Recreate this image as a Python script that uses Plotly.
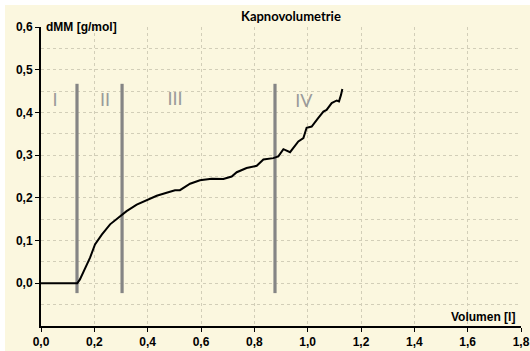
import plotly.graph_objects as go

# Curve data (Volumen [l], dMM [g/mol])
vol = [0.0, 0.136, 0.146, 0.165, 0.184, 0.2025, 0.228, 0.259, 0.303, 0.321, 0.359, 0.396,
       0.434, 0.471, 0.5025, 0.521, 0.559, 0.596, 0.64, 0.684, 0.715, 0.734, 0.771, 0.809,
       0.834, 0.871, 0.8775, 0.89, 0.909, 0.934, 0.965, 0.984, 0.996, 1.015, 1.04, 1.059,
       1.071, 1.09, 1.109, 1.1175, 1.125, 1.13]
dmm = [0.0, 0.0, 0.009, 0.033, 0.06, 0.091, 0.114, 0.138, 0.161, 0.169, 0.184, 0.194,
       0.205, 0.212, 0.218, 0.218, 0.233, 0.241, 0.245, 0.244, 0.25, 0.26, 0.27, 0.275,
       0.29, 0.293, 0.294, 0.297, 0.314, 0.307, 0.332, 0.34, 0.364, 0.367, 0.387, 0.402,
       0.406, 0.422, 0.428, 0.426, 0.441, 0.455]

# Phase boundaries and labels
phase_x = [0.135, 0.304, 0.8775]
phase_top = 0.467
phase_bottom = -0.023
phase_labels = ["I", "II", "III", "IV"]
phase_label_x = [0.0525, 0.24, 0.5025, 0.986]
phase_label_y = [0.425, 0.425, 0.427, 0.423]

y_ticks = [0.0, 0.1, 0.2, 0.3, 0.4, 0.5, 0.6]
y_ticktext = ["0,0", "0,1", "0,2", "0,3", "0,4", "0,5", "0,6"]
x_ticks = [0.0, 0.2, 0.4, 0.6, 0.8, 1.0, 1.2, 1.4, 1.6, 1.8]
x_ticktext = ["0,0", "0,2", "0,4", "0,6", "0,8", "1,0", "1,2", "1,4", "1,6", "1,8"]

cream = "#FBF7DF"
grid = "#D2CEB8"

fig = go.Figure()

for px in phase_x:
    fig.add_trace(go.Scatter(x=[px, px], y=[phase_bottom, phase_top], mode="lines",
                             line=dict(color="#858585", width=3.2), hoverinfo="skip",
                             showlegend=False))

fig.add_trace(go.Scatter(x=vol, y=dmm, mode="lines",
                         line=dict(color="black", width=2), showlegend=False))

fig.add_trace(go.Scatter(x=phase_label_x, y=phase_label_y, mode="text", text=phase_labels,
                         textfont=dict(family="Lato, Open Sans, sans-serif", size=18,
                                       color="#9A9A9A"),
                         showlegend=False, hoverinfo="skip"))

# cream background (leaves a thin white strip at left and top)
fig.add_shape(type="rect", xref="paper", yref="paper", x0=-36/480, x1=1.1, y0=-0.1,
              y1=1 + 22/299, fillcolor=cream, line=dict(width=0), layer="below")

fig.add_annotation(text="<b>Kapnovolumetrie</b>", xref="paper", yref="paper",
                   x=(291-41)/480, y=1 + (27-16)/299, xanchor="center", yanchor="middle",
                   showarrow=False, font=dict(family="Lato, Open Sans, sans-serif", size=13,
                                              color="black"))
fig.add_annotation(text="<b>dMM [g/mol]</b>", xref="paper", yref="paper",
                   x=3/480, y=1.0, xanchor="left", yanchor="middle", showarrow=False,
                   font=dict(family="Liberation Sans, Arial, sans-serif", size=12, color="black"))
fig.add_annotation(text="<b>Volumen [l]</b>", xref="paper", yref="paper",
                   x=(517-41)/480, y=(326-317)/299, xanchor="right", yanchor="middle",
                   showarrow=False,
                   font=dict(family="Liberation Sans, Arial, sans-serif", size=12, color="black"))

tickfont = dict(family="Liberation Sans, Arial, sans-serif", size=12, color="black",
                weight="bold")

fig.update_xaxes(range=[0, 1.8], tickvals=x_ticks, ticktext=x_ticktext, tickfont=tickfont,
                 showline=True, linecolor="black", linewidth=2, ticks="outside", ticklen=4,
                 tickcolor="black", showgrid=True, gridcolor=grid, griddash="dot", gridwidth=1,
                 zeroline=False, fixedrange=True, automargin=False)
fig.update_yaxes(range=[-0.1, 0.6], tickvals=y_ticks, ticktext=y_ticktext, tickfont=tickfont,
                 showline=True, linecolor="black", linewidth=2, ticks="outside", ticklen=4,
                 tickcolor="black", showgrid=True, gridcolor=grid, griddash="dot", gridwidth=1,
                 zeroline=False, fixedrange=True, automargin=False,
                 minor=dict(tickvals=[-0.05, 0.05, 0.15, 0.25, 0.35, 0.45, 0.55], showgrid=True,
                            gridcolor=grid, griddash="dot", gridwidth=1, ticks=""))

fig.update_layout(width=530, height=351, margin=dict(l=41, r=9, t=27, b=25),
                  paper_bgcolor="white", plot_bgcolor=cream, showlegend=False)

fig.write_html("out.html")
